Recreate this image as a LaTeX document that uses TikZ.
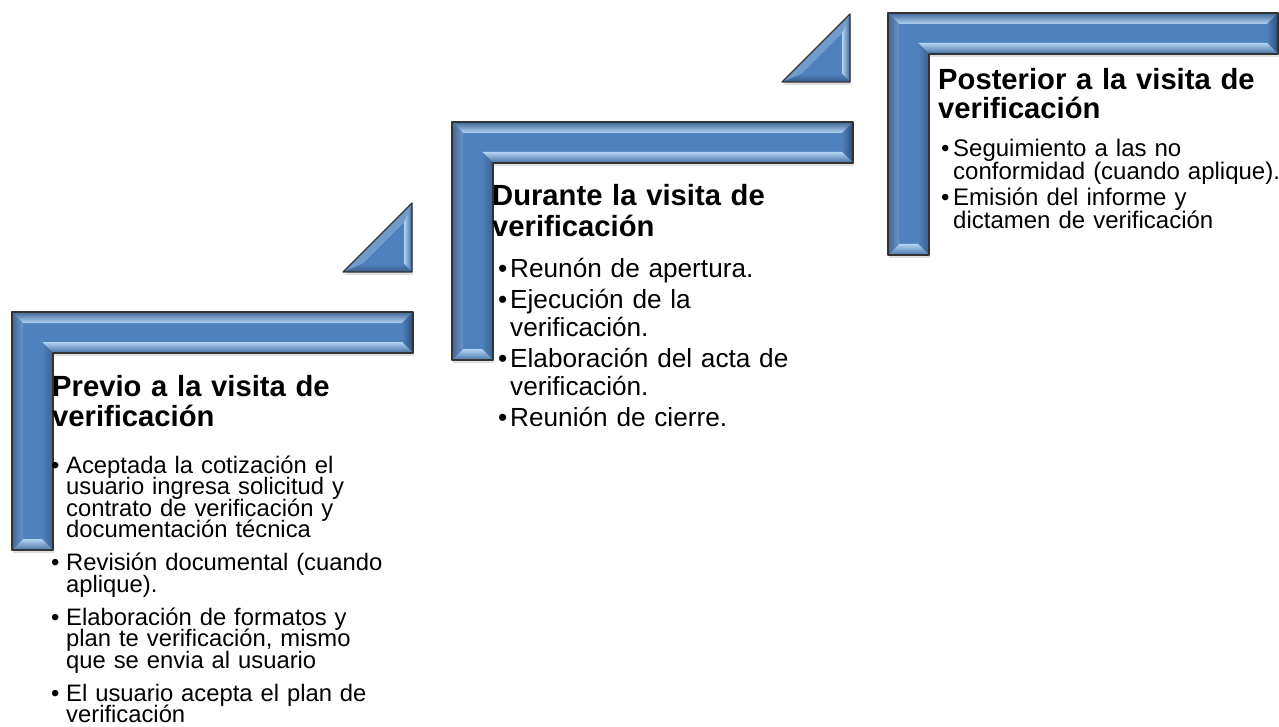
\documentclass[tikz,border=0pt]{standalone}
\usepackage{fontspec}
\setmainfont{Liberation Sans}
\usepackage{xcolor}
\usepackage{tikz}
\usetikzlibrary{shadows}

\definecolor{stepblue}{RGB}{79,129,189}
\definecolor{steplight}{RGB}{178,212,244}

\newcommand{\barw}{41}
\newcommand{\bev}{11}

% L-shaped bevelled frame: x0 y0 x1 y1
\newcommand{\stepframe}[4]{%
  \fill[stepblue, drop shadow={opacity=0.25, shadow xshift=1pt, shadow yshift=-3pt}]
    (#1,#2) -- (#3,#2) -- (#3,{#2+\barw}) -- ({#1+\barw},{#2+\barw})
    -- ({#1+\barw},#4) -- (#1,#4) -- cycle;
  \shade[top color=stepblue!80!black, bottom color=steplight] % top
    (#1,#2) -- (#3,#2) -- ({#3-\bev},{#2+\bev}) -- ({#1+\bev},{#2+\bev}) -- cycle;
  \shade[left color=stepblue, right color=stepblue!60!black] % right end
    (#3,#2) -- (#3,{#2+\barw}) -- ({#3-\bev},{#2+\barw-\bev}) -- ({#3-\bev},{#2+\bev}) -- cycle;
  \shade[top color=steplight, bottom color=stepblue!85!black] % under the bar
    (#3,{#2+\barw}) -- ({#1+\barw},{#2+\barw}) -- ({#1+\barw-\bev},{#2+\barw-\bev})
    -- ({#3-\bev},{#2+\barw-\bev}) -- cycle;
  \shade[left color=stepblue, right color=stepblue!75!black] % inner side
    ({#1+\barw},{#2+\barw}) -- ({#1+\barw},#4) -- ({#1+\barw-\bev},{#4-\bev})
    -- ({#1+\barw-\bev},{#2+\barw-\bev}) -- cycle;
  \shade[top color=steplight, bottom color=stepblue!90!black] % bottom cap
    ({#1+\barw},#4) -- (#1,#4) -- ({#1+\bev},{#4-\bev}) -- ({#1+\barw-\bev},{#4-\bev}) -- cycle;
  \shade[left color=stepblue!80!black, right color=stepblue!85!white] % left
    (#1,#4) -- (#1,#2) -- ({#1+\bev},{#2+\bev}) -- ({#1+\bev},{#4-\bev}) -- cycle;
  \draw[black!80, line width=1.3pt, line join=round]
    (#1,#2) -- (#3,#2) -- (#3,{#2+\barw}) -- ({#1+\barw},{#2+\barw})
    -- ({#1+\barw},#4) -- (#1,#4) -- cycle;
}

% bevelled right triangle: x0 y0 x1 y1
\newcommand{\steptri}[4]{%
  \fill[stepblue, drop shadow={opacity=0.25, shadow xshift=1pt, shadow yshift=-3pt}]
    (#1,#4) -- (#3,#2) -- (#3,#4) -- cycle;
  \fill[stepblue!80!white] (#1,#4) -- (#3,#2) -- ({#3-8},{#2+19.3}) -- ({#1+19.3},{#4-8}) -- cycle;
  \shade[left color=steplight, right color=stepblue!80!black]
    (#3,#2) -- (#3,#4) -- ({#3-8},{#4-8}) -- ({#3-8},{#2+19.3}) -- cycle;
  \shade[top color=stepblue, bottom color=stepblue!70!black]
    (#3,#4) -- (#1,#4) -- ({#1+19.3},{#4-8}) -- ({#3-8},{#4-8}) -- cycle;
  \draw[black!80, line width=1.3pt, line join=round] (#1,#4) -- (#3,#2) -- (#3,#4) -- cycle;
}

% one bullet: indent, text
\newcommand{\bitem}[2]{\noindent\hangindent=#1\hangafter=1\makebox[#1][l]{•}#2\par}

\tikzset{
  steptitle/.style={anchor=base west, inner sep=0pt, text width=380pt, align=left,
    font=\bfseries\fontsize{29.2}{#1}\selectfont,
    execute at begin node={\setlength{\lineskiplimit}{-60pt}}},
  stepbody/.style={anchor=base west, inner sep=0pt, text width=380pt,
    execute at begin node={\setlength{\parskip}{#1}\setlength{\lineskiplimit}{-60pt}}},
}

\begin{document}
\begin{tikzpicture}[x=1pt, y=-1pt]
  \useasboundingbox (0,0) rectangle (1279,727);

  % frames and steps
  \stepframe{12}{312}{413}{550}
  \stepframe{452}{122}{853}{360}
  \stepframe{888}{13}{1278}{255}
  \steptri{343}{203}{412}{272}
  \steptri{782}{14}{850}{82}

  % before
  \node[steptitle=30] (prevtitle) at (52,396) {Previo a la visita de\\verificación};
  \node[stepbody=11.5pt, font=\fontsize{23.8}{21.5}\selectfont] (prevlist) at (51,473) {%
    \bitem{15pt}{Aceptada la cotización el\newline usuario ingresa solicitud y\newline contrato de verificación y\newline documentación técnica}%
    \bitem{15pt}{Revisión documental (cuando\newline aplique).}%
    \bitem{15pt}{Elaboración de formatos y\newline plan te verificación, mismo\newline que se envia al usuario}%
    \bitem{15pt}{El usuario acepta el plan de\newline verificación}};

  % during
  \node[steptitle=31] (durtitle) at (492,206) {Durante la visita de\\verificación};
  \node[stepbody=3pt, font=\fontsize{26.2}{28}\selectfont] (durlist) at (498,277) {%
    \bitem{12pt}{Reunón de apertura.}%
    \bitem{12pt}{Ejecución de la\newline verificación.}%
    \bitem{12pt}{Elaboración del acta de\newline verificación.}%
    \bitem{12pt}{Reunión de cierre.}};

  % after
  \node[steptitle=28.5] (posttitle) at (938,90) {Posterior a la visita de\\verificación};
  \node[stepbody=4pt, font=\fontsize{24}{22.5}\selectfont] (postlist) at (941,157) {%
    \bitem{12pt}{Seguimiento a las no\newline conformidad (cuando aplique).}%
    \bitem{12pt}{Emisión del informe y\newline dictamen de verificación}};
\end{tikzpicture}
\end{document}
